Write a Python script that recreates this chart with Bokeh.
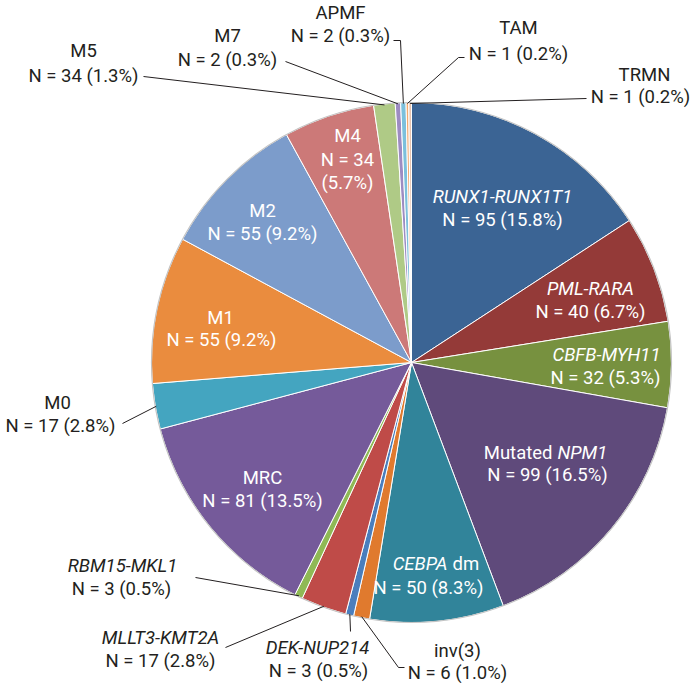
import math
from bokeh.plotting import figure
from bokeh.models import ColumnDataSource, Range1d
from bokeh.core.properties import value
from bokeh.embed import file_html
from bokeh.resources import INLINE

# ---------------- data ----------------
groups = ["RUNX1-RUNX1T1", "PML-RARA", "CBFB-MYH11", "Mutated NPM1", "CEBPA dm",
          "inv(3)", "DEK-NUP214", "MLLT3-KMT2A", "RBM15-MKL1", "MRC", "M0", "M1",
          "M2", "M4", "M5", "M7", "APMF", "TAM", "TRMN"]
counts = [95, 40, 32, 99, 50, 6, 3, 17, 3, 81, 17, 55, 55, 34, 8, 2, 2, 1, 1]
# N as printed in the original labels (M5 label reads 34)
shown_n = [95, 40, 32, 99, 50, 6, 3, 17, 3, 81, 17, 55, 55, 34, 34, 2, 2, 1, 1]
colors = ["#3b6494", "#943a38", "#77913f", "#5f4a7b", "#31849a",
          "#e07a2e", "#4a7ebd", "#bf4b48", "#8fb955", "#755a9a", "#44a5c0", "#ea8c3e",
          "#7c9ccb", "#cc7978", "#afca86", "#9d8cc2", "#7cc0dc", "#f4aa70", "#e8c4b0"]
italic_names = {"RUNX1-RUNX1T1", "PML-RARA", "CBFB-MYH11", "DEK-NUP214",
                "MLLT3-KMT2A", "RBM15-MKL1"}
split_titles = {"Mutated NPM1": [("Mutated", "normal"), ("NPM1", "italic")],
                "CEBPA dm": [("CEBPA", "italic"), ("dm", "normal")]}

# ---------------- layout (screen pixel coords) ----------------
CX, CY, R = 411, 362, 260
FONT = value("Roboto")
FS = "18.5px"
DARK = "#231f20"

layout = {
    "RUNX1-RUNX1T1": dict(inside=True, t=(502, 196), n=(502, 219)),
    "PML-RARA": dict(inside=True, t=(590, 288), n=(590, 311)),
    "CBFB-MYH11": dict(inside=True, t=(606, 354), n=(605, 377)),
    "Mutated NPM1": dict(inside=True, t=(547, 452), n=(547, 474), split=(552, 557)),
    "CEBPA dm": dict(inside=True, t=(426, 563), n=(428, 587), split=(447, 452)),
    "inv(3)": dict(inside=False, t=(457, 650), n=(457, 672), lead=[(404, 667), (398, 667)]),
    "DEK-NUP214": dict(inside=False, t=(317, 647), n=(318, 670), lead=[(350, 631)]),
    "MLLT3-KMT2A": dict(inside=False, t=(160, 637), n=(160, 660), lead=[(225, 647)]),
    "RBM15-MKL1": dict(inside=False, t=(122, 565), n=(121, 588), lead=[(195, 577)]),
    "MRC": dict(inside=True, t=(262, 477), n=(262, 500)),
    "M0": dict(inside=False, t=(57, 402), n=(60, 425), lead=[(122, 423)]),
    "M1": dict(inside=True, t=(220, 317), n=(221, 339)),
    "M2": dict(inside=True, t=(262, 210), n=(262, 233)),
    "M4": dict(inside=True, t=(347, 135), n=(347, 159), n2=(347, 182)),
    "M5": dict(inside=False, t=(83, 50), n=(83, 75), lead=[(143, 76)]),
    "M7": dict(inside=False, t=(227, 35), n=(227, 59), lead=[(285, 61)]),
    "APMF": dict(inside=False, t=(340, 12), n=(340, 35), lead=[(393, 40), (400, 40)]),
    "TAM": dict(inside=False, t=(518, 27), n=(518, 53), lead=[(464, 57), (458, 57)]),
    "TRMN": dict(inside=False, t=(644, 74), n=(640, 96), lead=[(586, 98)]),
}

W, H = 690, 683
p = figure(width=W, height=H, x_range=Range1d(0, W), y_range=Range1d(-H, 0),
           toolbar_location=None, output_backend="svg", min_border=0,
           x_axis_location=None, y_axis_location=None, outline_line_color=None,
           background_fill_color="white", border_fill_color="white")
p.grid.grid_line_color = None

total = sum(counts)
starts, ends, mids = [], [], []
cum = 0
for c in counts:
    a0 = math.pi / 2 - 2 * math.pi * cum / total
    cum += c
    a1 = math.pi / 2 - 2 * math.pi * cum / total
    starts.append(a0)
    ends.append(a1)
    mids.append((a0 + a1) / 2)

src = ColumnDataSource(dict(start=starts, end=ends, color=colors, group=groups))
p.wedge(x=CX, y=-CY, radius=R, start_angle="start", end_angle="end", direction="clock",
        fill_color="color", line_color="white", line_width=1, source=src)
p.circle(x=CX, y=-CY, radius=R, fill_color=None, line_color="#c4c4c4", line_width=1.2)


def put(txt, xy, style="normal", color=DARK, align="center"):
    p.text(x=[xy[0]], y=[-xy[1]], text=[txt], text_font=FONT, text_font_size=FS,
           text_font_style=style, text_color=color, text_align=align,
           text_baseline="middle")


for i, g in enumerate(groups):
    L = layout[g]
    col = "white" if L["inside"] else DARK
    pct = f"({100 * counts[i] / total:.1f}%)"
    if g in split_titles:
        (t1, s1), (t2, s2) = split_titles[g]
        xr, xl = L["split"]
        put(t1, (xr, L["t"][1]), s1, col, "right")
        put(t2, (xl, L["t"][1]), s2, col, "left")
    else:
        put(g, L["t"], "italic" if g in italic_names else "normal", col)
    if "n2" in L:
        put(f"N = {shown_n[i]}", L["n"], "normal", col)
        put(pct, L["n2"], "normal", col)
    else:
        put(f"N = {shown_n[i]} {pct}", L["n"], "normal", col)
    if not L["inside"]:
        ex = CX + (R - 1) * math.cos(mids[i])
        ey = CY - (R - 1) * math.sin(mids[i])
        pts = L["lead"] + [(ex, ey)]
        p.line(x=[q[0] for q in pts], y=[-q[1] for q in pts], line_color=DARK, line_width=1)

open("out.html", "w").write(file_html(p, INLINE))
